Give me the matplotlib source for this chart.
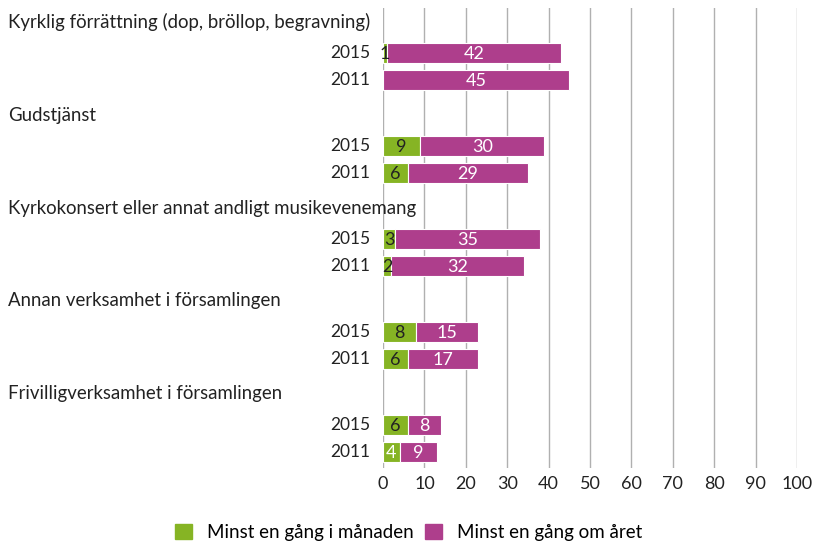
import matplotlib
matplotlib.use("Agg")
import matplotlib.pyplot as plt
from matplotlib.patches import Patch

plt.rcParams["font.family"] = ["Lato", "DejaVu Sans"]

GREEN, MAGENTA = "#86b424", "#ae3e8c"

groups = ["Kyrklig förrättning (dop, bröllop, begravning)", "Gudstjänst",
          "Kyrkokonsert eller annat andligt musikevenemang",
          "Annan verksamhet i församlingen", "Frivilligverksamhet i församlingen"]
years = ["2015", "2011"]
monthly = [[1, 0], [9, 6], [3, 2], [8, 6], [6, 4]]
yearly = [[42, 45], [30, 29], [35, 32], [15, 17], [8, 9]]
# colour of the green segment label, per bar (one white in the source)
month_lab_col = [["#222222", "#222222"], ["#222222", "#222222"], ["#222222", "#222222"],
                 ["#222222", "#222222"], ["#222222", "white"]]

fig = plt.figure(figsize=(8.17, 5.42), dpi=100)
ax = fig.add_axes([0.4688, 0.1365, 0.9755 - 0.4688, 0.985 - 0.1365])

step, off = 3.2, [1.07, 2.0]
for g, name in enumerate(groups):
    y0 = g * step
    ax.text(-0.906, y0, name, transform=ax.get_yaxis_transform(),
            ha="left", va="center", fontsize=13.4, color="#222222")
    for k, yr in enumerate(years):
        y = y0 + off[k]
        m, a = monthly[g][k], yearly[g][k]
        ax.barh(y, m, height=0.7, color=GREEN, edgecolor="white", linewidth=0.8)
        ax.barh(y, a, left=m, height=0.7, color=MAGENTA, edgecolor="white", linewidth=0.8)
        if m > 0:
            ax.text(m / 2, y + 0.03, str(m), ha="center", va="center", fontsize=13,
                    color=month_lab_col[g][k])
        ax.text(m + a / 2, y + 0.03, str(a), ha="center", va="center", fontsize=13, color="white")
        ax.text(-0.03, y, yr, transform=ax.get_yaxis_transform(), ha="right",
                va="center", fontsize=12.5, color="#222222")

ax.set_xlim(0, 100)
ax.set_ylim(4 * step + 2 + 0.55, -0.48)
ax.set_xticks(range(0, 101, 10))
ax.set_yticks([])
ax.tick_params(axis="x", length=0, labelsize=13, pad=6, colors="#222222")
ax.grid(axis="x", color="#b0b0b0", linewidth=1)
ax.set_axisbelow(True)
for s in ax.spines.values():
    s.set_visible(False)

handles = [Patch(color=GREEN), Patch(color=MAGENTA)]
fig.legend(handles, ["Minst en gång i månaden", "Minst en gång om året"],
           loc="center", bbox_to_anchor=(0.5, 0.018), ncol=2, frameon=False,
           fontsize=13.5, handlelength=0.9, handleheight=0.9, handletextpad=0.8,
           columnspacing=0.6)

fig.savefig("out.png", dpi=100)
